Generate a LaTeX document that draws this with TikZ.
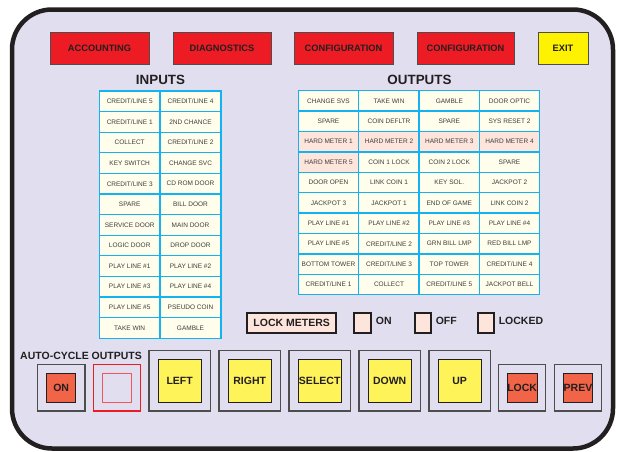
\documentclass[tikz,border=0pt]{standalone}
\usepackage{fontspec}
\setmainfont{Liberation Sans}
\usetikzlibrary{positioning}
\definecolor{panel}{RGB}{225,222,240}
\definecolor{ink}{RGB}{35,31,32}
\definecolor{edge}{RGB}{77,77,77}
\definecolor{alarm}{RGB}{237,28,36}
\definecolor{exitylw}{RGB}{255,242,0}
\definecolor{lemon}{RGB}{255,243,90}
\definecolor{coral}{RGB}{241,100,72}
\definecolor{paper}{RGB}{255,253,235}
\definecolor{meter}{RGB}{253,229,220}
\definecolor{wire}{RGB}{20,178,238}
\definecolor{cellink}{RGB}{60,60,60}

\begin{document}
\begin{tikzpicture}
	[x=1pt, y=-1pt,
	btn/.style={draw=edge, line width=1pt, text=ink, inner sep=0pt, minimum height=32pt, font=\fontsize{9.3}{11}\selectfont\bfseries},
	title/.style={text=ink, inner sep=0pt, font=\fontsize{13.4}{15}\selectfont\bfseries},
	cell/.style={draw=wire, line width=1.3pt, text=cellink, inner sep=0pt, minimum width=60.5pt, minimum height=20.5pt, font=\fontsize{6.5}{8}\selectfont},
	tick/.style={draw=ink, line width=2pt, fill=meter, inner sep=0pt, minimum width=16.3pt, minimum height=20.6pt},
	lbl/.style={text=ink, inner sep=0pt, font=\fontsize{10.5}{12}\selectfont\bfseries},
	frame/.style={draw=edge, line width=1.2pt, inner sep=0pt},
	key/.style={draw=ink, line width=0.9pt, text=ink, inner sep=0pt, font=\fontsize{10.5}{12}\selectfont\bfseries}]
	\useasboundingbox (0,0) rectangle (618,451);
	\draw [line width=4.5pt, draw=ink, fill=panel, rounded corners=40pt] (12,9.5) rectangle (613,448.5);

	\node [btn, fill=alarm, minimum width=99pt] (accounting) at (99.5,48) {ACCOUNTING};
	\node [btn, fill=alarm, minimum width=98pt] (diagnostics) at (222,48) {DIAGNOSTICS};
	\node [btn, fill=alarm, minimum width=99pt] (config-a) at (343.5,48) {CONFIGURATION};
	\node [btn, fill=alarm, minimum width=97pt] (config-b) at (465.5,48) {CONFIGURATION};
	\node [btn, fill=exitylw, minimum width=50pt] (exit) at (563,48) {EXIT};

	\node [title] (inputs) at (160.5,80) {INPUTS};
	\node [title] (outputs) at (419.5,80) {OUTPUTS};

	\foreach \ca/\cb [count=\r] in {{CREDIT/LINE 5}/{CREDIT/LINE 4}, {CREDIT/LINE 1}/{2ND CHANCE},
		COLLECT/{CREDIT/LINE 2}, KEY SWITCH/CHANGE SVC, {CREDIT/LINE 3}/CD ROM DOOR,
		SPARE/BILL DOOR, SERVICE DOOR/MAIN DOOR, LOGIC DOOR/DROP DOOR,
		PLAY LINE \#1/PLAY LINE \#2, PLAY LINE \#3/PLAY LINE \#4,
		PLAY LINE \#5/PSEUDO COIN, TAKE WIN/GAMBLE}
	{
		\node [cell, fill=paper, minimum width=60.8pt, minimum height=20.6pt] (in-\r-1) at (129.7,{80.7+20.6*\r}) {\ca};
		\node [cell, fill=paper, minimum width=60.8pt, minimum height=20.6pt] (in-\r-2) at (190.5,{80.7+20.6*\r}) {\cb};
	}

	\foreach \fa/\fb/\ca/\cb/\cc/\cd [count=\r] in {
		paper/paper/CHANGE SVS/TAKE WIN/GAMBLE/DOOR OPTIC,
		paper/paper/SPARE/COIN DEFLTR/SPARE/SYS RESET 2,
		meter/meter/HARD METER 1/HARD METER 2/HARD METER 3/HARD METER 4,
		meter/paper/HARD METER 5/COIN 1 LOCK/COIN 2 LOCK/SPARE,
		paper/paper/DOOR OPEN/LINK COIN 1/KEY SOL./JACKPOT 2,
		paper/paper/JACKPOT 3/JACKPOT 1/END OF GAME/LINK COIN 2,
		paper/paper/PLAY LINE \#1/PLAY LINE \#2/PLAY LINE \#3/PLAY LINE \#4,
		paper/paper/PLAY LINE \#5/{CREDIT/LINE 2}/GRN BILL LMP/RED BILL LMP,
		paper/paper/BOTTOM TOWER/{CREDIT/LINE 3}/TOP TOWER/{CREDIT/LINE 4},
		paper/paper/{CREDIT/LINE 1}/COLLECT/{CREDIT/LINE 5}/JACKPOT BELL}
	{
		\node [cell, fill=\fa] (out-\r-1) at (328.5,{80.5+20.4*\r}) {\ca};
		\node [cell, fill=\fb] (out-\r-2) at (389,{80.5+20.4*\r}) {\cb};
		\node [cell, fill=\fb] (out-\r-3) at (449.3,{80.5+20.4*\r}) {\cc};
		\node [cell, fill=\fb] (out-\r-4) at (509.5,{80.5+20.4*\r}) {\cd};
	}

	\node [tick, minimum width=88.7pt, minimum height=20.3pt, lbl] (lock-meters) at (291.7,322.8) {LOCK METERS};
	\node [tick] (on-box) at (362.5,322.8) {};
	\node [tick] (off-box) at (423,322.8) {};
	\node [tick] (locked-box) at (486,322.8) {};
	\node [lbl, right=4pt of on-box, yshift=1.5pt] (on-lbl) {ON};
	\node [lbl, right=3.4pt of off-box, yshift=1.5pt] (off-lbl) {OFF};
	\node [lbl, right=3.4pt of locked-box, yshift=1.5pt] (locked-lbl) {LOCKED};

	\node [lbl, anchor=west] (auto-cycle) at (20,355.7) {AUTO-CYCLE OUTPUTS};
	\node [frame, minimum width=47.7pt, minimum height=46.7pt] (frame-on) at (61.2,387.7) {};
	\node [key, fill=coral, minimum width=29pt, minimum height=29pt] (key-on) at (frame-on) {ON};
	\node [frame, draw=alarm, minimum width=47.4pt, minimum height=46.7pt] (frame-off) at (117,387.7) {};
	\node [frame, draw=alarm!75, minimum width=29.4pt, minimum height=29pt] (key-off) at (frame-off) {};
	\foreach \t [count=\i from 0] in {LEFT,RIGHT,SELECT,DOWN,UP}
	{
		\node [frame, minimum width=61.3pt, minimum height=60.7pt] (frame-\i) at ({179.7+70*\i},380.7) {};
		\node [key, fill=lemon, minimum width=42.7pt, minimum height=43pt] (key-\i) at (frame-\i) {\t};
	}
	\node [frame, minimum width=47pt, minimum height=46.7pt] (frame-lock) at (522.2,387.7) {};
	\node [key, fill=coral, minimum width=29pt, minimum height=29pt] (key-lock) at (frame-lock) {LOCK};
	\node [frame, minimum width=47.4pt, minimum height=46.7pt] (frame-prev) at (578,387.7) {};
	\node [key, fill=coral, minimum width=29pt, minimum height=29pt] (key-prev) at (frame-prev) {PREV};
\end{tikzpicture}
\end{document}
